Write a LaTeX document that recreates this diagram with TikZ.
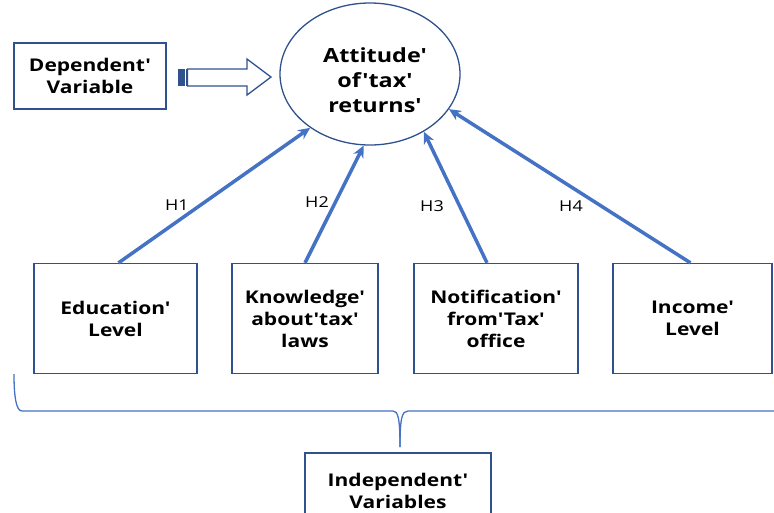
\documentclass[tikz,border=0pt]{standalone}
\usepackage{fontspec}
\setmainfont[FakeStretch=1.2,Ligatures=TeXOff]{Open Sans}
\usepackage{tikz}
\usetikzlibrary{arrows.meta,positioning,shapes.geometric}
\definecolor{boxblue}{RGB}{47,82,143}
\definecolor{linkblue}{RGB}{68,114,196}

\begin{document}
\begin{tikzpicture}[x=1pt, y=-1pt,
  vbox/.style={draw=boxblue, line width=1.3pt, inner sep=0pt, align=center, font=\fontsize{17.5}{22}\selectfont\bfseries},
  hlink/.style={-{Stealth[length=12pt,width=11pt]}, line width=3.5pt, linkblue},
  hlabel/.style={font=\fontsize{15}{18}\selectfont}]
\useasboundingbox (0,0) rectangle (774,512);
\clip (0,0) rectangle (774,512);
% Dependent variable
\node[vbox, minimum width=152pt, minimum height=66pt] (dep) at (90,76) {Dependent'\\Variable};
% Outcome
\node[draw=boxblue, line width=1.3pt, ellipse, inner sep=0pt, minimum width=180pt, minimum height=142pt, align=center, font=\fontsize{19.5}{25}\selectfont\bfseries] (att) at (370,74) {\rule{0pt}{28pt}\hspace{10pt}Attitude'\\\hspace{10pt}of'tax'\\\hspace{10pt}returns'};
% Block arrow
\fill[boxblue] (178,69) rectangle (184.5,86);
\draw[boxblue, line width=1pt] (186.5,69) -- (186.5,86);
\draw[boxblue, line width=1.3pt, fill=white] (187.5,69) -- (247,69) -- (247,59) -- (271,77) -- (247,95) -- (247,86) -- (187.5,86) -- cycle;
% Independent variables
\node[vbox, minimum width=163pt, minimum height=110pt] (edu) at (115.5,318.5) {Education'\\Level};
\node[vbox, minimum width=146pt, minimum height=110pt] (know) at (305,318.5) {Knowledge'\\about'tax'\\laws};
\node[vbox, minimum width=164pt, minimum height=110pt] (notif) at (496,318.5) {Notification'\\from'Tax'\\office};
\node[vbox, minimum width=159pt, minimum height=110pt] (inc) at (692.5,318.5) {Income'\\Level};
% Hypotheses
\draw[hlink] (edu.north) ++(3,0) -- (att.222);
\draw[hlink] (know.north) -- (att.265);
\draw[hlink] (notif.north) ++(-9,0) -- (att.313);
\draw[hlink] (inc.north) ++(-2,0) -- (att.336);
\node[hlabel] (h1) at (177,205) {H1};
\node[hlabel] (h2) at (317,202) {H2};
\node[hlabel] (h3) at (432,206) {H3};
\node[hlabel] (h4) at (571,206) {H4};
% Brace
\node[vbox, minimum width=186pt, minimum height=76pt] (indep) at (398,491) {Independent'\\Variables};
\draw[linkblue, line width=1.3pt] (14,374) .. controls (14,396) and (16,411) .. (22,411) -- (393,411) .. controls (398,411) and (400,418) .. (400,447);
\draw[linkblue, line width=1.3pt] (400,447) .. controls (400,418) and (402,411) .. (408,411) -- (774,411);
\end{tikzpicture}
\end{document}
